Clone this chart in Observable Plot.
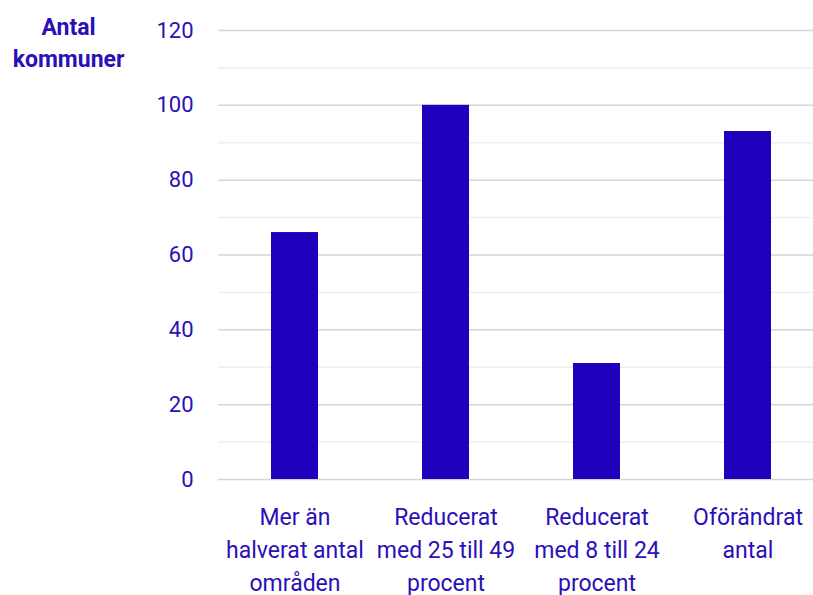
<!DOCTYPE html>
<html>
<head>
<meta charset="utf-8">
<script src="https://cdn.jsdelivr.net/npm/d3@7"></script>
<script src="https://cdn.jsdelivr.net/npm/@observablehq/plot@0.6"></script>
<style>
  html, body { margin: 0; padding: 0; background: #fff; }
  #chart svg { display: block; }
</style>
</head>
<body>
<div id="chart"></div>
<script>
const categories = [
  "Mer än\nhalverat antal\nområden",
  "Reducerat\nmed 25 till 49\nprocent",
  "Reducerat\nmed 8 till 24\nprocent",
  "Oförändrat\nantal"
];
const values = [66, 100, 31, 93];
const majorTicks = [0, 20, 40, 60, 80, 100, 120];
const minorTicks = [10, 30, 50, 70, 90, 110];
const yTitle = "Antal\nkommuner";

const data = categories.map((c, i) => ({category: c, value: values[i]}));
const barColor = "#1f00bd";
const textColor = "#2a10b8";

const chart = Plot.plot({
  width: 813,
  height: 595,
  marginTop: 30,
  marginBottom: 116,
  marginLeft: 218,
  marginRight: 0,
  style: {fontFamily: "Roboto, sans-serif", fontSize: "22px", color: textColor, background: "#fff"},
  x: {domain: categories, range: [218, 823], paddingInner: 0.69, paddingOuter: 0.345, label: null},
  y: {domain: [0, 120], label: null},
  marks: [
    Plot.ruleY(minorTicks, {stroke: "#eeeeee", strokeWidth: 1.5}),
    Plot.ruleY(majorTicks, {stroke: "#d6d6d6", strokeWidth: 1.5}),
    Plot.barY(data, {x: "category", y: "value", fill: barColor}),
    Plot.axisY(majorTicks, {tickSize: 0, tickPadding: 25, fontSize: 22, fill: textColor, label: null}),
    Plot.axisX({tickSize: 0, tickPadding: 22, fontSize: 23, lineHeight: 1.43, fill: textColor, label: null}),
    Plot.text([yTitle], {frameAnchor: "top-left", dx: -150, dy: -18, lineAnchor: "top", textAnchor: "middle", fontSize: 23, fontWeight: "bold", lineHeight: 1.38, fill: textColor})
  ]
});
document.getElementById("chart").appendChild(chart);
</script>
</body>
</html>
